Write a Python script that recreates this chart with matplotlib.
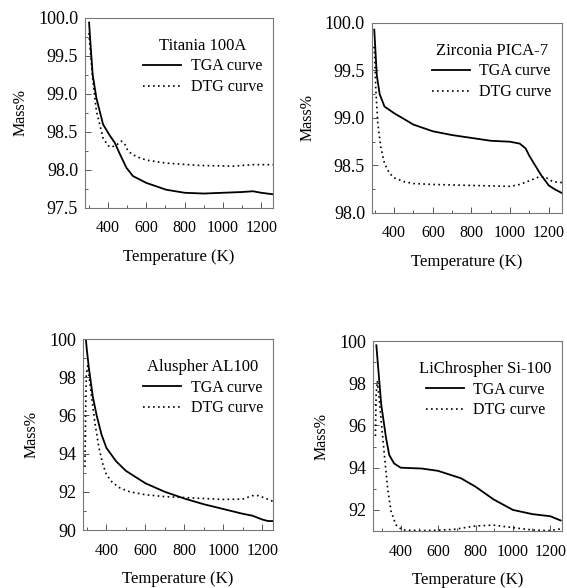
import matplotlib
matplotlib.use("Agg")
import matplotlib.pyplot as plt
from matplotlib.ticker import MultipleLocator, FormatStrFormatter

plt.rcParams["font.family"] = ["Liberation Serif", "DejaVu Serif"]

# Titania 100A
TI_TGA_T = [301, 310, 320, 339, 374, 410, 435, 460, 496, 530, 600, 704, 800, 900, 1000, 1100, 1157, 1200, 1262]
TI_TGA_M = [99.94, 99.6, 99.25, 98.95, 98.6, 98.45, 98.36, 98.22, 98.03, 97.92, 97.83, 97.74, 97.70, 97.69, 97.70, 97.71, 97.72, 97.70, 97.68]
TI_DTG_T = [300, 310, 320, 339, 374, 400, 417, 445, 470, 490, 504, 530, 565, 600, 704, 878, 1052, 1157, 1262]
TI_DTG_M = [99.8, 99.5, 99.2, 98.78, 98.42, 98.32, 98.30, 98.33, 98.38, 98.33, 98.25, 98.2, 98.16, 98.13, 98.09, 98.06, 98.05, 98.07, 98.07]

# Zirconia PICA-7
ZR_TGA_T = [297, 310, 325, 350, 400, 500, 600, 700, 800, 900, 1000, 1050, 1080, 1100, 1130, 1160, 1200, 1230, 1268]
ZR_TGA_M = [99.93, 99.45, 99.25, 99.12, 99.05, 98.93, 98.86, 98.82, 98.79, 98.76, 98.75, 98.73, 98.68, 98.60, 98.50, 98.40, 98.29, 98.25, 98.21]
ZR_DTG_T = [297, 305, 315, 330, 350, 375, 400, 450, 500, 600, 800, 1000, 1050, 1100, 1150, 1180, 1220, 1268]
ZR_DTG_M = [99.75, 99.3, 98.95, 98.7, 98.52, 98.42, 98.37, 98.33, 98.31, 98.30, 98.29, 98.28, 98.30, 98.34, 98.38, 98.38, 98.33, 98.32]

# Aluspher AL100
AL_TGA_T = [292, 300, 310, 330, 350, 375, 400, 450, 500, 600, 700, 800, 900, 1000, 1100, 1150, 1200, 1230, 1255]
AL_TGA_M = [100.3, 99.4, 98.5, 97.0, 96.0, 95.0, 94.3, 93.6, 93.1, 92.45, 92.0, 91.65, 91.35, 91.1, 90.85, 90.75, 90.55, 90.47, 90.47]
AL_DTG_T = [290, 293, 297, 305, 320, 340, 360, 380, 400, 430, 470, 520, 600, 700, 800, 900, 1000, 1100, 1150, 1180, 1220, 1255]
AL_DTG_M = [93.3, 96.0, 98.2, 98.6, 97.3, 95.7, 94.4, 93.5, 92.9, 92.5, 92.2, 92.0, 91.85, 91.75, 91.7, 91.65, 91.6, 91.62, 91.8, 91.8, 91.65, 91.5]

# LiChrospher Si-100
LI_TGA_T = [270, 296, 322, 339, 365, 400, 513, 600, 722, 800, 896, 1000, 1104, 1200, 1255]
LI_TGA_M = [99.8, 97.0, 95.4, 94.6, 94.2, 94.0, 93.96, 93.85, 93.5, 93.1, 92.5, 92.0, 91.8, 91.7, 91.5]
LI_DTG_T = [265, 269, 275, 285, 296, 313, 330, 348, 374, 409, 513, 600, 687, 800, 896, 1000, 1104, 1191, 1255]
LI_DTG_M = [95.5, 97.5, 98.1, 97.3, 96.2, 94.6, 93.05, 91.95, 91.3, 91.05, 91.02, 91.04, 91.08, 91.24, 91.28, 91.16, 91.05, 91.02, 91.1]

PANELS = [
    # name, axes rect, xlim, ylim, y major, y minor, y format, tga, dtg
    ("Titania 100A", [0.150, 0.6463, 0.3316, 0.3231], (280, 1262), (97.5, 100.0), 0.5, 0.25, "%.1f",
     (TI_TGA_T, TI_TGA_M), (TI_DTG_T, TI_DTG_M)),
    ("Zirconia PICA-7", [0.656, 0.6378, 0.335, 0.3231], (285, 1268), (98.0, 100.0), 0.5, 0.25, "%.1f",
     (ZR_TGA_T, ZR_TGA_M), (ZR_DTG_T, ZR_DTG_M)),
    ("Aluspher AL100", [0.1464, 0.0986, 0.335, 0.3248], (280, 1255), (90, 100), 2, 1, "%d",
     (AL_TGA_T, AL_TGA_M), (AL_DTG_T, AL_DTG_M)),
    ("LiChrospher Si-100", [0.6578, 0.0969, 0.3333, 0.3231], (252, 1262), (91, 100), 2, 1, "%d",
     (LI_TGA_T, LI_TGA_M), (LI_DTG_T, LI_DTG_M)),
]

fig = plt.figure(figsize=(5.67, 5.88), dpi=100)

for name, rect, xlim, ylim, ymaj, ymin, yfmt, tga, dtg in PANELS:
    ax = fig.add_axes(rect)
    ax.plot(tga[0], tga[1], color="black", lw=1.3, label="TGA curve")
    ax.plot(dtg[0], dtg[1], color="black", lw=1.2, linestyle=(0, (1, 2)), label="DTG curve")
    ax.set_xlim(*xlim)
    ax.set_ylim(*ylim)
    ax.xaxis.set_major_locator(MultipleLocator(200))
    ax.xaxis.set_minor_locator(MultipleLocator(100))
    ax.yaxis.set_major_locator(MultipleLocator(ymaj))
    ax.yaxis.set_minor_locator(MultipleLocator(ymin))
    ax.yaxis.set_major_formatter(FormatStrFormatter(yfmt))
    ax.set_xticks([400, 600, 800, 1000, 1200])
    ax.tick_params(which="both", direction="in", color="#555555", width=0.7)
    ax.tick_params(which="major", length=4)
    ax.tick_params(which="minor", length=2)
    ax.tick_params(axis="x", pad=9, labelsize=11.5)
    ax.tick_params(axis="y", pad=5, labelsize=13)
    for sp in ax.spines.values():
        sp.set_color("#777777")
        sp.set_linewidth(0.8)
    ax.set_xlabel("Temperature (K)", fontsize=12, labelpad=9)
    ax.set_ylabel("Mass%", fontsize=11.5, labelpad=7)
    leg = ax.legend(title=name, loc="upper right", bbox_to_anchor=(0.98, 0.93),
                    borderaxespad=0, frameon=False, fontsize=11.5, title_fontsize=12,
                    handlelength=2.4, handletextpad=0.6, labelspacing=0.3)

fig.savefig("out.png", dpi=100)
